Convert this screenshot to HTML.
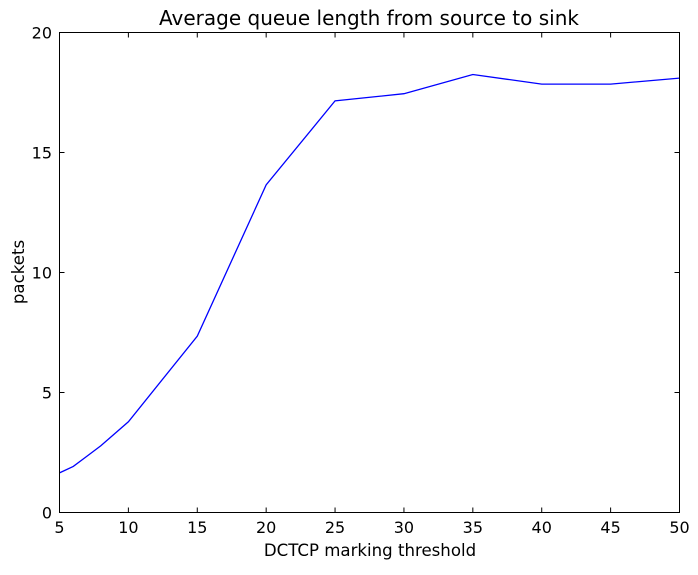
<!DOCTYPE html>
<html><head><style>
body{margin:0;background:#fff;}
svg text{font-family:"DejaVu Sans","Liberation Sans",sans-serif;fill:#000;}
</style></head><body>
<svg width="698" height="570">
<rect width="698" height="570" fill="#fff"/>
<text x="369" y="25" font-size="20" text-anchor="middle">Average queue length from source to sink</text>
<g id="ticks"></g>
<path id="line" fill="none" stroke="#0000ff" stroke-width="1.3"/>
<rect x="59.5" y="32.5" width="620" height="480" fill="none" stroke="#000"/>
<text x="370" y="556" font-size="16.6" text-anchor="middle">DCTCP marking threshold</text>
<text transform="translate(24,272) rotate(-90)" font-size="16.6" text-anchor="middle">packets</text>
</svg>
<script>
const xs=[5,6,7,8,10,15,20,25,30,35,40,45,50];
const ys=[1.65,1.92,2.35,2.78,3.78,7.35,13.65,17.15,17.45,18.25,17.85,17.85,18.1];
const xTicks=[5,10,15,20,25,30,35,40,45,50];
const yTicks=[0,5,10,15,20];
const X=v=>59.5+(v-5)/45*620, Y=v=>512.5-v/20*480;
const ns="http://www.w3.org/2000/svg";
const line=document.getElementById('line');
line.setAttribute('d',xs.map((x,i)=>(i?'L':'M')+X(x)+','+Y(ys[i])).join(''));
const g=document.getElementById('ticks');
function mk(t,a){const e=document.createElementNS(ns,t);for(const k in a)e.setAttribute(k,a[k]);g.appendChild(e);return e;}
xTicks.forEach(v=>{
 const l=mk('path',{d:`M${X(v)},512.5v-5M${X(v)},32.5v5`,stroke:'#000'});
 
 
 const t=mk('text',{x:X(v),y:533,'font-size':16,'text-anchor':'middle'});t.textContent=v;
 
 
});
yTicks.forEach(v=>{
 const l=mk('path',{d:`M59.5,${Y(v)}h5M679.5,${Y(v)}h-5`,stroke:'#000'});
 
 
 const t=mk('text',{x:52,y:Y(v)+6,'font-size':16,'text-anchor':'end'});t.textContent=v;
 
 
});
</script>
</body></html>
